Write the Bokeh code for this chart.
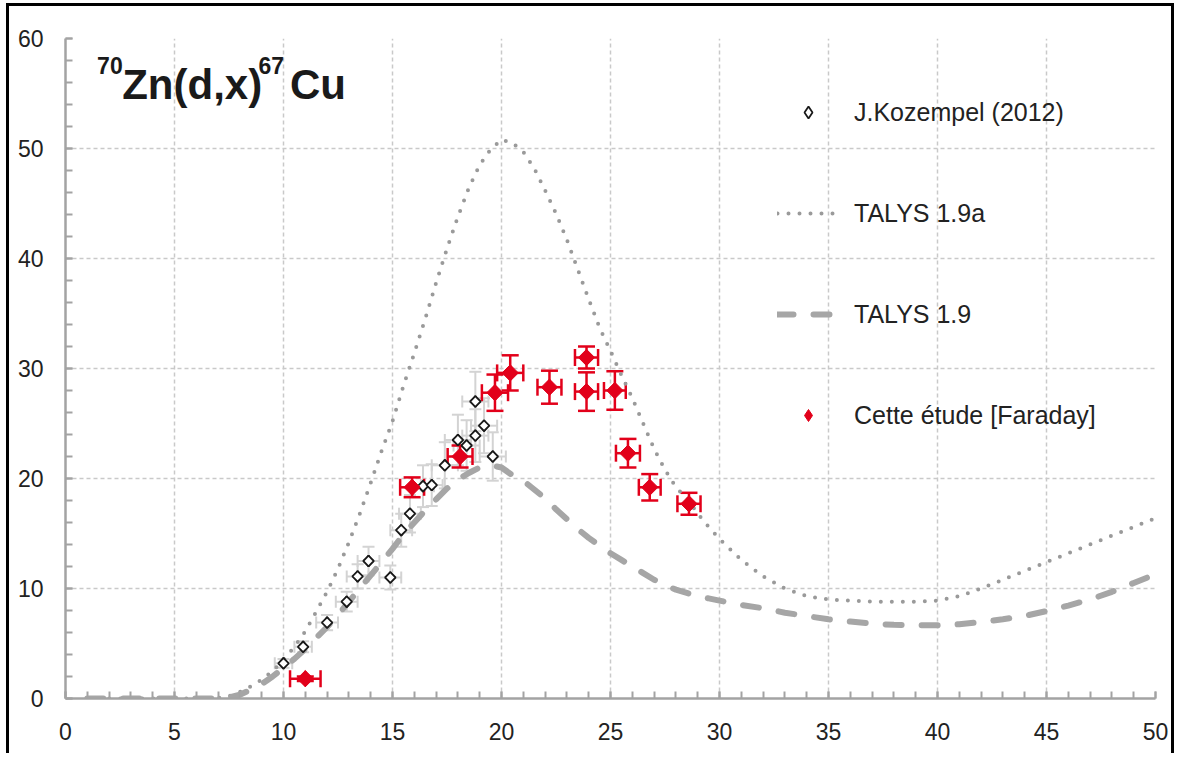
import math
from bokeh.plotting import figure
from bokeh.models import (ColumnDataSource, Whisker, TeeHead, Legend, LegendItem,
                          Label, FixedTicker, Range1d)
from bokeh.embed import file_html
from bokeh.resources import INLINE

# ---------------- data ----------------
# TALYS 1.9a (dotted)
talys_a_x = [1, 2, 3, 4, 5, 6, 7, 7.5, 8, 8.5, 9, 9.5, 10, 10.5, 11, 11.5, 12, 12.5, 13, 13.5,
             14, 14.5, 15, 15.5, 16, 16.5, 17, 17.5, 18, 18.5, 19, 19.5, 20, 20.5, 21, 21.5,
             22, 22.5, 23, 23.5, 24, 24.5, 25, 25.5, 26, 26.5, 27, 27.5, 28, 28.5, 29, 29.5,
             30, 31, 32, 33, 34, 35, 36, 37, 38, 39, 40, 41, 42, 43, 44, 45, 46, 47, 48, 49, 50]
talys_a_y = [0, 0, 0, 0, 0, 0, 0.05, 0.2, 0.6, 1.1, 1.7, 2.5, 3.5, 4.7, 6.1, 7.9, 9.7, 11.8, 14.2, 16.8,
             19.6, 22.5, 25.2, 28.4, 31.4, 34.5, 37.8, 40.9, 43.8, 46.4, 48.5, 49.9, 50.8, 50.5, 49.7, 48.2,
             46.2, 44.1, 41.7, 39.0, 36.3, 33.7, 31.6, 29.4, 27.3, 25.0, 22.7, 20.8, 19.2, 18.2, 16.8, 15.6,
             14.5, 12.6, 11.1, 10.0, 9.3, 9.0, 8.9, 8.8, 8.8, 8.8, 8.9, 9.3, 10.0, 10.8, 11.6, 12.4, 13.2,
             14.0, 14.8, 15.6, 16.4]

# TALYS 1.9 (dashed)
talys_x = [1, 2, 3, 4, 5, 6, 7, 7.5, 8, 8.5, 9, 9.5, 10, 10.5, 11, 11.5, 12, 12.5, 13, 13.5,
           14, 14.5, 15, 15.5, 16, 16.5, 17, 17.5, 18, 18.5, 19, 19.5, 20, 20.5, 21, 21.5,
           22, 22.5, 23, 23.5, 24, 24.5, 25, 25.5, 26, 26.5, 27, 27.5, 28, 28.5, 29, 29.5,
           30, 31, 32, 33, 34, 35, 36, 37, 38, 39, 40, 41, 42, 43, 44, 45, 46, 47, 48, 49, 50]
talys_y = [0, 0, 0, 0, 0, 0, 0, 0.1, 0.35, 0.8, 1.3, 2.0, 2.8, 3.6, 4.5, 5.5, 6.5, 7.6, 8.8, 10.0,
           11.2, 12.4, 13.6, 14.9, 16.0, 17.1, 18.1, 19.1, 19.9, 20.5, 21.0, 21.2, 21.0, 20.3, 19.8, 19.0,
           18.2, 17.2, 16.3, 15.4, 14.6, 13.9, 13.2, 12.6, 12.0, 11.4, 10.8, 10.3, 9.9, 9.6, 9.3, 9.1,
           8.9, 8.5, 8.2, 7.8, 7.5, 7.2, 7.0, 6.8, 6.7, 6.65, 6.65, 6.75, 6.95, 7.2, 7.5, 7.95, 8.45,
           9.0, 9.7, 10.5, 11.3]

# J.Kozempel (2012)
koz_x = [10.0, 10.9, 12.0, 12.9, 13.4, 13.9, 14.9, 15.4, 15.8, 16.4, 16.8, 17.4, 18.0, 18.4, 18.8, 18.8, 19.2, 19.6]
koz_y = [3.2, 4.7, 6.9, 8.8, 11.1, 12.5, 11.0, 15.3, 16.8, 19.3, 19.4, 21.2, 23.5, 23.0, 27.0, 23.9, 24.8, 22.0]
koz_xerr = [0.4, 0.4, 0.5, 0.5, 0.5, 0.5, 0.5, 0.5, 0.5, 0.5, 0.5, 0.6, 0.6, 0.6, 0.6, 0.6, 0.6, 0.6]
koz_yerr = [0.4, 0.5, 0.7, 0.9, 1.1, 1.3, 1.1, 1.5, 1.7, 1.9, 1.9, 2.1, 2.3, 2.3, 2.7, 2.4, 2.5, 2.2]

# Cette étude [Faraday]
far_x = [11.0, 15.9, 18.1, 19.7, 20.4, 22.2, 23.9, 23.9, 25.2, 25.8, 26.8, 28.6]
far_y = [1.8, 19.2, 22.0, 27.8, 29.6, 28.3, 31.0, 27.9, 28.0, 22.3, 19.2, 17.7]
far_xerr = [0.7, 0.55, 0.57, 0.6, 0.6, 0.55, 0.53, 0.53, 0.5, 0.55, 0.5, 0.53]
far_yerr = [0.2, 0.9, 1.0, 1.65, 1.6, 1.5, 1.0, 1.75, 1.75, 1.3, 1.2, 1.0]

x_ticks = list(range(0, 51, 5))
y_ticks = list(range(0, 61, 10))

# ---------------- figure ----------------
FONT = "Liberation Sans"
RED = "#e2001a"
GRID = "#c9c9c9"
AXIS = "#a3a3a3"

p = figure(width=1168, height=750, output_backend="svg", toolbar_location=None,
           x_range=Range1d(0, 50), y_range=Range1d(0, 60),
           min_border_left=56, min_border_top=32, min_border_right=22, min_border_bottom=58)
p.styles = {"border-left": "3px solid black", "border-top": "3px solid black",
            "border-right": "3px solid black", "margin-left": "6px", "margin-top": "3px"}
p.outline_line_color = None
p.background_fill_color = "white"
p.border_fill_color = "white"

p.xaxis.ticker = FixedTicker(ticks=x_ticks, minor_ticks=list(range(0, 51)))
p.yaxis.ticker = FixedTicker(ticks=y_ticks, minor_ticks=list(range(0, 61, 2)))
for ax in (p.xaxis, p.yaxis):
    ax.axis_line_color = AXIS
    ax.axis_line_width = 2.5
    ax.major_tick_line_color = AXIS
    ax.minor_tick_line_color = AXIS
    ax.major_tick_line_width = 2
    ax.minor_tick_line_width = 2
    ax.major_tick_in = 7
    ax.major_tick_out = 0
    ax.minor_tick_in = 7
    ax.minor_tick_out = 0
    ax.major_label_text_font = FONT
    ax.major_label_text_font_size = "23px"
    ax.major_label_text_color = "#222222"
p.xaxis.major_label_standoff = 24
p.yaxis.major_label_standoff = 22

p.xgrid.ticker = FixedTicker(ticks=x_ticks)
p.ygrid.ticker = FixedTicker(ticks=y_ticks)
for g in (p.xgrid, p.ygrid):
    g.grid_line_color = GRID
    g.grid_line_dash = "4 3"
    g.grid_line_width = 1.5

# ---------------- curves ----------------
r_dot = p.line(talys_a_x, talys_a_y, line_color="#9a9a9a", line_width=4,
               line_dash="0 11", line_cap="round")
r_dash = p.line(talys_x, talys_y, line_color="#a6a6a6", line_width=6,
                line_dash="16 20", line_cap="round")

# ---------------- Kozempel ----------------
koz_src = ColumnDataSource(dict(
    x=koz_x, y=koz_y,
    x_lo=[a - b for a, b in zip(koz_x, koz_xerr)], x_up=[a + b for a, b in zip(koz_x, koz_xerr)],
    y_lo=[a - b for a, b in zip(koz_y, koz_yerr)], y_up=[a + b for a, b in zip(koz_y, koz_yerr)],
))
KGREY = "#d3d3d3"
p.add_layout(Whisker(source=koz_src, base="x", lower="y_lo", upper="y_up", dimension="height",
                     line_color=KGREY, line_width=2,
                     lower_head=TeeHead(size=12, line_color=KGREY, line_width=2),
                     upper_head=TeeHead(size=12, line_color=KGREY, line_width=2)))
p.add_layout(Whisker(source=koz_src, base="y", lower="x_lo", upper="x_up", dimension="width",
                     line_color=KGREY, line_width=2,
                     lower_head=TeeHead(size=12, line_color=KGREY, line_width=2),
                     upper_head=TeeHead(size=12, line_color=KGREY, line_width=2)))
# legend proxy (diamond, hidden underneath the rotated squares)
r_koz_leg = p.scatter("x", "y", source=koz_src, marker="diamond", size=11,
                      line_color="#1a1a1a", line_width=1.8, fill_color="white")
r_koz = p.scatter("x", "y", source=koz_src, marker="square", angle=math.pi / 4, size=7.5,
                  line_color="#1a1a1a", line_width=1.8, fill_color="white")

# ---------------- Faraday ----------------
far_src = ColumnDataSource(dict(
    x=far_x, y=far_y,
    x_lo=[a - b for a, b in zip(far_x, far_xerr)], x_up=[a + b for a, b in zip(far_x, far_xerr)],
    y_lo=[a - b for a, b in zip(far_y, far_yerr)], y_up=[a + b for a, b in zip(far_y, far_yerr)],
))
p.add_layout(Whisker(source=far_src, base="x", lower="y_lo", upper="y_up", dimension="height",
                     line_color=RED, line_width=2.5,
                     lower_head=TeeHead(size=17, line_color=RED, line_width=2.5),
                     upper_head=TeeHead(size=17, line_color=RED, line_width=2.5)))
p.add_layout(Whisker(source=far_src, base="y", lower="x_lo", upper="x_up", dimension="width",
                     line_color=RED, line_width=2.5,
                     lower_head=TeeHead(size=17, line_color=RED, line_width=2.5),
                     upper_head=TeeHead(size=17, line_color=RED, line_width=2.5)))
r_far_leg = p.scatter("x", "y", source=far_src, marker="diamond", size=16,
                      line_color=RED, line_width=1, fill_color=RED)
r_far = p.scatter("x", "y", source=far_src, marker="square", angle=math.pi / 4, size=11.5,
                  line_color=RED, line_width=1, fill_color=RED)

# ---------------- title (⁷⁰Zn(d,x)⁶⁷Cu) ----------------
title_parts = [("70", 1.45, 58.3, "23px"),
               ("Zn(d,x)", 2.6, 58.0, "42px"),
               ("67", 8.85, 58.3, "23px"),
               ("Cu", 10.3, 58.0, "42px")]
for txt, tx, ty, fs in title_parts:
    p.add_layout(Label(x=tx, y=ty, text=txt, text_font=FONT, text_font_size=fs,
                       text_font_style="bold", text_color="#1a1a1a", text_baseline="top"))

# ---------------- legend ----------------
legend = Legend(items=[LegendItem(label="J.Kozempel (2012)", renderers=[r_koz_leg]),
                       LegendItem(label="TALYS 1.9a", renderers=[r_dot]),
                       LegendItem(label="TALYS 1.9", renderers=[r_dash]),
                       LegendItem(label="Cette étude [Faraday]", renderers=[r_far_leg])],
                location=(712, 268), orientation="vertical",
                glyph_width=62, glyph_height=30, label_height=30, spacing=71,
                label_standoff=15, padding=0, margin=0,
                background_fill_alpha=0, border_line_color=None,
                label_text_font=FONT, label_text_font_size="25px", label_text_color="#222222")
p.add_layout(legend)

open("out.html", "w").write(file_html(p, INLINE))
